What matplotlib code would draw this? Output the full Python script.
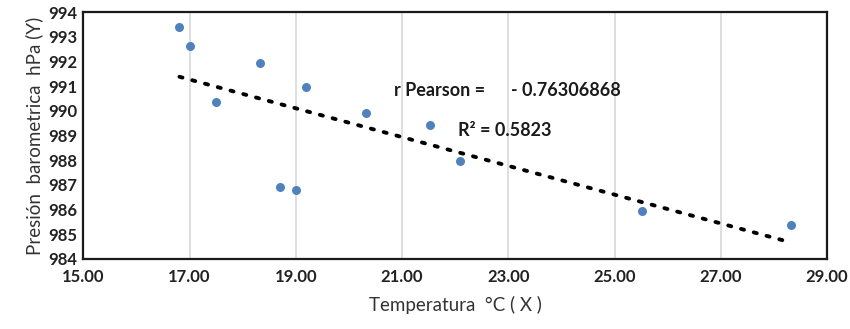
import numpy as np
import matplotlib
matplotlib.use("Agg")
import matplotlib.pyplot as plt

temperature = [16.81, 17.01, 17.50, 18.32, 18.71, 19.00, 19.20, 20.32, 21.52, 22.10, 25.51, 28.32]
pressure = [993.40, 992.64, 990.36, 991.95, 986.93, 986.78, 990.98, 989.92, 989.44, 987.97, 985.94, 985.38]
x_ticks = [15, 17, 19, 21, 23, 25, 27, 29]
y_ticks = [984, 985, 986, 987, 988, 989, 990, 991, 992, 993, 994]
pearson_label = "r Pearson ="
pearson_value = "- 0.76306868"
r2_label = "R² = 0.5823"
x_label = "Temperatura  °C ( X )"
y_label = "Presión  barometrica  hPa (Y)"

plt.rcParams['font.family'] = ['Lato', 'DejaVu Sans']

fig = plt.figure(figsize=(8.5, 3.29), dpi=100)
ax = fig.add_axes([0.098, 0.213, 0.875, 0.7505])

ax.set_xlim(15, 29)
ax.set_ylim(984, 994)
ax.set_xticks(x_ticks)
ax.set_xticklabels([f"{t:.2f}" for t in x_ticks])
ax.set_yticks(y_ticks)
ax.tick_params(length=0, labelsize=12, colors='#222222')
ax.tick_params(axis='x', pad=7)
ax.tick_params(axis='y', pad=4)
for lab in ax.get_xticklabels() + ax.get_yticklabels():
    lab.set_fontweight('bold')
ax.grid(axis='x', color='#d9d9d9', linewidth=1.2)
ax.set_axisbelow(True)
for s in ax.spines.values():
    s.set_linewidth(1.6)
    s.set_color('#1a1a1a')

ax.scatter(temperature, pressure, s=42, color='#4F81BD', zorder=3, linewidths=0)

coef = np.polyfit(temperature, pressure, 1)
xs = np.array([min(temperature), max(temperature) - 0.15])
ax.plot(xs, np.polyval(coef, xs), color='black', linestyle=(0, (0.8, 2.6)),
        linewidth=2.8, dash_capstyle='round', zorder=2)

ax.text(20.84, 990.84, pearson_label, fontsize=13, fontweight='bold', color='#1a1a1a', va='center')
ax.text(23.06, 990.84, pearson_value, fontsize=13, fontweight='bold', color='#1a1a1a', va='center')
ax.text(22.05, 989.22, r2_label, fontsize=13, fontweight='bold', color='#1a1a1a', va='center')

ax.set_xlabel(x_label, fontsize=13.5, color='#333333', labelpad=8)
ax.set_ylabel(y_label, fontsize=13.5, color='#333333', labelpad=4)

fig.savefig("out.png", dpi=100)
